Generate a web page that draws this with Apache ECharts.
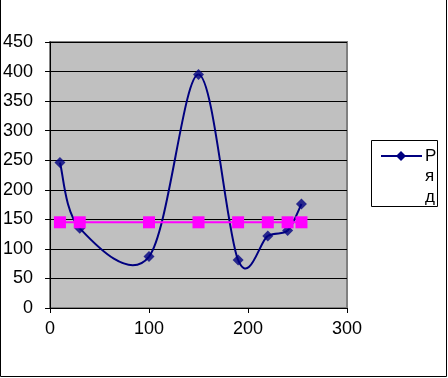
<!DOCTYPE html>
<html><head><meta charset="utf-8">
<script src="https://cdn.jsdelivr.net/npm/echarts@6/dist/echarts.min.js"></script>
<style>html,body{margin:0;padding:0;background:#fff}#c{width:448px;height:378px}</style>
</head><body><div id="c"></div>
<script>
var xValues = [10, 30, 100, 150, 190, 220, 240, 254];
var series1 = [246, 135, 87, 395, 81, 122, 131, 176];
var series2 = [145, 145, 145, 145, 145, 145, 145, 145];
var yTicks = [0, 50, 100, 150, 200, 250, 300, 350, 400, 450];
var xTicks = [0, 100, 200, 300];
var legendName = 'Ряд';

var font = 'Liberation Sans, Arial, sans-serif';
var chart = echarts.init(document.getElementById('c'), null, {renderer: 'canvas'});
var d1 = xValues.map(function (x, i) { return [x, series1[i]]; });
var d2 = xValues.map(function (x, i) { return [x, series2[i]]; });

function renderSeg(params, api) {
  var i = params.dataIndex, n = xValues.length;
  if (i >= n - 1) return null;
  function P(k) { k = Math.max(0, Math.min(n - 1, k)); return api.coord([xValues[k], series1[k]]); }
  var p0 = P(i - 1), p1 = P(i), p2 = P(i + 1), p3 = P(i + 2);
  var t = 1 / 6;
  return {
    type: 'bezierCurve',
    shape: {
      x1: p1[0], y1: p1[1], x2: p2[0], y2: p2[1],
      cpx1: p1[0] + (p2[0] - p0[0]) * t, cpy1: p1[1] + (p2[1] - p0[1]) * t,
      cpx2: p2[0] - (p3[0] - p1[0]) * t, cpy2: p2[1] - (p3[1] - p1[1]) * t
    },
    style: {stroke: '#000080', lineWidth: 2, fill: null}
  };
}

chart.setOption({
  animation: false,
  backgroundColor: '#fff',
  grid: {left: 50, right: 101, top: 42, bottom: 70, show: true, backgroundColor: '#C0C0C0', borderColor: '#808080', borderWidth: 2},
  xAxis: {
    type: 'value', min: 0, max: 300, interval: 100,
    axisLine: {show: true, onZero: false, lineStyle: {color: '#000', width: 1}},
    axisTick: {show: true, length: 5, lineStyle: {color: '#000'}},
    axisLabel: {color: '#000', fontSize: 18, fontFamily: font, margin: 12},
    splitLine: {show: false}
  },
  yAxis: {
    type: 'value', min: 0, max: 450, interval: 50,
    axisLine: {show: true, lineStyle: {color: '#000', width: 1}},
    axisTick: {show: true, length: 5, lineStyle: {color: '#000'}},
    axisLabel: {color: '#000', fontSize: 18, fontFamily: font, margin: 17},
    splitLine: {show: true, lineStyle: {color: '#000', width: 1}}
  },
  series: [
    {type: 'custom', name: legendName, data: d1, renderItem: renderSeg, z: 2, silent: true},
    {type: 'scatter', data: d1, symbol: 'diamond', symbolSize: 11, itemStyle: {color: '#000080'}, z: 3},
    {type: 'line', data: d2, symbol: 'rect', symbolSize: 12, showAllSymbol: true,
      lineStyle: {color: '#FF00FF', width: 2}, itemStyle: {color: '#FF00FF'}, z: 4}
  ],
  graphic: [
    {type: 'polyline', shape: {points: [[0.5, -2], [0.5, 376.5], [446.5, 376.5], [446.5, -2]]}, style: {stroke: '#000', lineWidth: 1, fill: null}},
    {type: 'rect', shape: {x: 371.5, y: 140.5, width: 66, height: 66}, style: {stroke: '#000', lineWidth: 1, fill: '#fff'}},
    {type: 'line', shape: {x1: 381, y1: 156, x2: 422, y2: 156}, style: {stroke: '#000080', lineWidth: 2}},
    {type: 'polygon', shape: {points: [[401, 151], [406, 156], [401, 161], [396, 156]]}, style: {fill: '#000080'}},
    {type: 'text', left: 425, top: 146, style: {text: 'Р\nя\nд', font: '17px ' + font, fill: '#000', lineHeight: 20.5}}
  ]
});
</script></body></html>
